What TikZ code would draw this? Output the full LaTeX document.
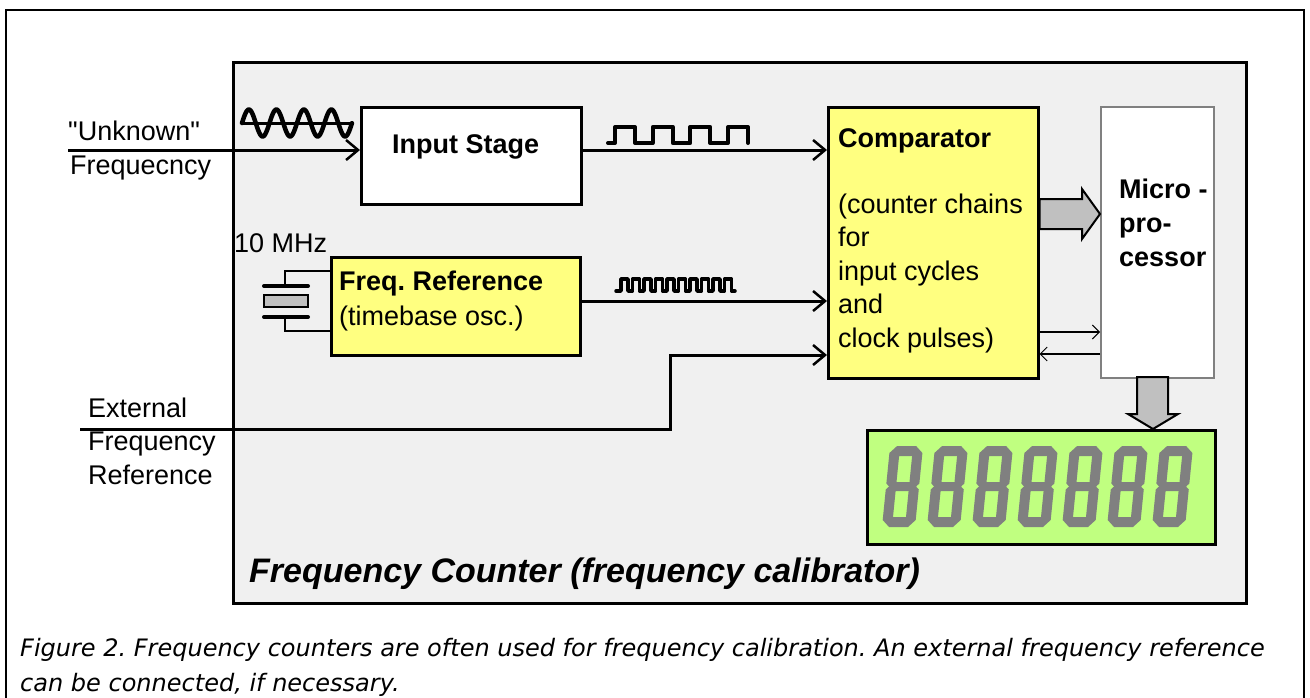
\documentclass[tikz,border=0pt]{standalone}
\usepackage{fontspec}
\setmainfont{Liberation Sans}
\newfontfamily\capfont{DejaVu Sans}
\font\plainsans="Liberation Sans" at 27pt
\usetikzlibrary{arrows.meta}
\definecolor{bggray}{HTML}{F0F0F0}
\definecolor{boxyellow}{HTML}{FFFF80}
\definecolor{lcdgreen}{HTML}{C0FF80}
\definecolor{seggray}{HTML}{808080}
\definecolor{arrgray}{HTML}{C0C0C0}
\frenchspacing
\begin{document}
\begin{tikzpicture}[x=1pt,y=-1pt,
  lbl/.style={font=\fontsize{27}{33.5}\selectfont, anchor=base west, inner sep=0pt},
  blbl/.style={lbl, font=\fontsize{27}{34}\selectfont\bfseries},
  blk/.style={draw=black, line width=2.5pt, anchor=north west, inner sep=0pt},
  wire/.style={line width=3pt},
  arr/.style={wire, -{Straight Barb[length=12pt,width=20pt,line width=2.5pt]}},
  thinarr/.style={line width=2pt, -{Straight Barb[length=7pt,width=14pt,line width=1pt]}},
  wave/.style={line width=4pt, line cap=round, line join=round},
  fat/.style={fill=arrgray, draw=black, line width=2pt, line join=miter},
]
\useasboundingbox (0,0) rectangle (1310,697);
\clip (0,0) rectangle (1310,697);
\fill[white] (0,0) rectangle (1310,697);
\draw[line width=2.5pt] (6,705) -- (6,10) -- (1304,10) -- (1304,705);

% main housing
\node[blk, fill=bggray, minimum width=1013pt, minimum height=541pt] (counter) at (232,61) {};

% blocks
\node[blk, fill=white, minimum width=220pt, minimum height=97pt] (input) at (360,106) {};
\node[blk, fill=boxyellow, minimum width=210pt, minimum height=271pt] (comp) at (827,106) {};
\node[blk, fill=white, draw=seggray, line width=1.5pt, minimum width=113pt, minimum height=271pt] (micro) at (1100,106) {};
\node[blk, fill=boxyellow, minimum width=249pt, minimum height=98pt] (freq) at (330,256) {};
\node[blk, fill=lcdgreen, minimum width=348pt, minimum height=114pt] (lcd) at (866,429) {};

% texts (multi-line nodes are anchored at the baseline of their last line)
\node[blbl] (tin) at (392,153) {Input Stage};
\node[lbl] (tunk) at (68,140) {\plainsans "Unknown"};
\node[lbl] (tfq) at (70,174) {Frequecncy};
\node[lbl] (tmhz) at (234,252) {10 MHz};
\node[blbl] (tfr) at (339,290) {Freq. Reference};
\node[lbl] (ttb) at (339,325) {(timebase osc.)};
\node[blbl] (tcomp) at (838,147) {Comparator};
\node[lbl, align=left] (tcc) at (838,347) {(counter chains\\for\\input cycles\\and\\clock pulses)};
\node[blbl, align=left] (tmic) at (1119,266) {Micro -\\pro-\\cessor};
\node[lbl, align=left] (text) at (88,484) {External\\Frequency\\Reference};
\node[lbl, font=\fontsize{34}{40}\selectfont\bfseries\itshape] (title) at (249,582) {Frequency Counter (frequency calibrator)};
\node[lbl, font={\capfont\itshape\fontsize{24}{35}\selectfont}, align=left] (cap) at (20,691)
  {Figure 2. Frequency counters are often used for frequency calibration. An external frequency reference\\can be connected, if necessary.};

% connectors
\coordinate (unkin) at (68,150);
\coordinate (extin) at (80,429);
\draw[arr] (unkin) -- (unkin -| input.west);
\draw[arr] (input.east |- unkin) -- (comp.west |- unkin);
\draw[arr] (freq.east |- 0,301) -- (comp.west |- 0,301);
\draw[arr] (extin) -- (670,429) -- (670,355) -- (comp.west |- 0,355);
\draw[thinarr] (comp.east |- 0,332) -- (micro.west |- 0,332);
\draw[thinarr] (micro.west |- 0,354) -- (comp.east |- 0,354);

% fat arrows
\draw[fat] (comp.east |- 0,199) -- (1082,199) -- (1082,189) -- (micro.west |- 0,214) -- (1082,239) -- (1082,229) -- (comp.east |- 0,229) -- cycle;
\draw[fat] (1137,377) -- (1137,414) -- (1128,414) -- (lcd.north -| 1153,0) -- (1178,414) -- (1168,414) -- (1168,377) -- cycle;

% waveforms
\draw[line width=3pt] (242,123) -- (353,123);
\draw[wave, line width=4.5pt] plot[domain=0:4, samples=160, smooth] ({242+27.5*\x}, {123-13.5*sin(360*\x)});
\draw[wave] (608,143) -- (615,143) -- (615,127) -- (635,127) -- (635,143) -- (652.7,143) -- (652.7,127) -- (672.7,127) -- (672.7,143) -- (690.3,143) -- (690.3,127) -- (710.3,127) -- (710.3,143) -- (728,143) -- (728,127) -- (748,127) -- (748,143);
\draw[wave, line width=3.5pt] (616,291) \foreach \k in {0,...,9} { -- ({621+11.5*\k},291) -- ({621+11.5*\k},279) -- ({628+11.5*\k},279) -- ({628+11.5*\k},291) } -- (735,291);

% crystal
\draw[line width=2.5pt] (freq.west |- 0,271) -- (285,271) -- (285,286);
\draw[line width=2.5pt] (freq.west |- 0,331) -- (285,331) -- (285,317);
\draw[line width=4pt, line cap=round] (264,286) -- (308,286);
\draw[line width=4pt, line cap=round] (264,317) -- (308,317);
\draw[fill=arrgray, line width=2.5pt] (264,295) rectangle (308,307);

% seven-segment digits
\foreach \i in {0,...,6} {
  \begin{scope}[shift={(882+45*\i,527)}, xslant=0.1]
    \fill[seggray, even odd rule] (7,0) -- (26,0) -- (33,-7) -- (33,-37.5) -- (30,-40.5) -- (33,-43.5) -- (33,-74) -- (26,-81) -- (7,-81) -- (0,-74) -- (0,-43.5) -- (3,-40.5) -- (0,-37.5) -- (0,-7) -- cycle
      (10,-10) rectangle (23,-36) (10,-45) rectangle (23,-71);
  \end{scope}
}
\end{tikzpicture}
\end{document}
